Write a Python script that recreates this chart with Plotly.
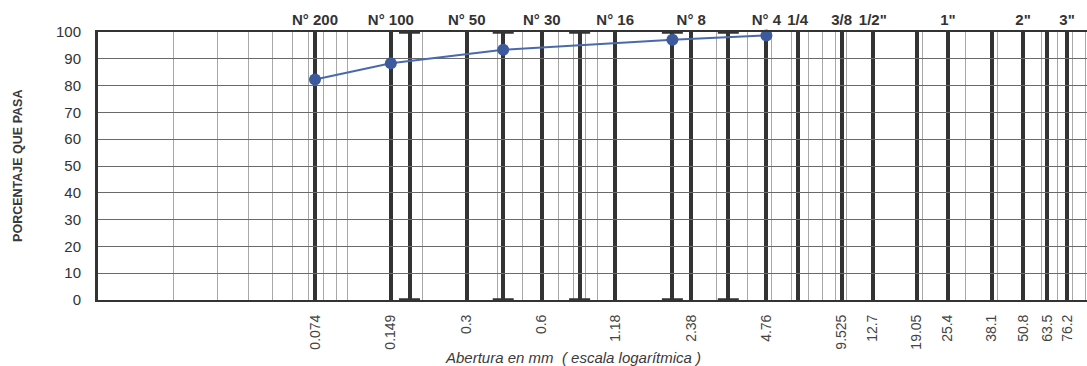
import numpy as np
import plotly.graph_objects as go

# ---------------- data ----------------
# measured points (sieve opening mm, % passing)
point_mm = [0.074, 0.149, 0.42, 2.0, 4.76]
point_pct = [82.3, 88.3, 93.4, 97.1, 98.7]

# heavy sieve lines
sieve_mm = [0.074, 0.149, 0.177, 0.3, 0.42, 0.6, 0.85, 1.18, 2.0, 2.38, 3.35,
            4.76, 6.35, 9.525, 12.7, 19.05, 25.4, 38.1, 50.8, 63.5, 76.2]
# bottom labels (mm)
bottom_mm = [0.074, 0.149, 0.3, 0.6, 1.18, 2.38, 4.76, 9.525, 12.7, 19.05,
             25.4, 38.1, 50.8, 63.5, 76.2]
bottom_text = ["0.074", "0.149", "0.3", "0.6", "1.18", "2.38", "4.76", "9.525",
               "12.7", "19.05", "25.4", "38.1", "50.8", "63.5", "76.2"]
# top labels (sieve names)
top_mm = [0.074, 0.149, 0.3, 0.6, 1.18, 2.38, 4.76, 6.35, 9.525, 12.7, 25.4, 50.8, 76.2]
top_text = ["N° 200", "N° 100", "N° 50", "N° 30", "N° 16", "N° 8", "N° 4",
            "1/4", "3/8", "1/2\"", "1\"", "2\"", "3\""]
# sieve lines drawn with end caps
capped_mm = [0.177, 0.42, 0.85, 2.0, 3.35]
# percent axis
y_ticks = [0, 10, 20, 30, 40, 50, 60, 70, 80, 90, 100]
# log minor grid
minor_mm = [m * 10.0 ** e for e in (-2, -1, 0, 1) for m in range(1, 10)]

FONT = "Liberation Sans, Arial, sans-serif"
DARK = "#333333"

fig = go.Figure()

# caps on some sieve lines
fig.add_trace(go.Scatter(
    x=capped_mm + capped_mm,
    y=[y_ticks[0]] * len(capped_mm) + [y_ticks[-1]] * len(capped_mm),
    mode="markers",
    marker=dict(symbol="line-ew", size=15, line=dict(width=3.5, color=DARK)),
    cliponaxis=False, hoverinfo="skip", showlegend=False,
))

# grading curve
fig.add_trace(go.Scatter(
    x=point_mm, y=point_pct, mode="lines+markers",
    line=dict(color="#4a69ad", width=2),
    marker=dict(color="#3c5a9c", size=12),
    cliponaxis=False, showlegend=False,
))

# invisible trace for top axis
fig.add_trace(go.Scatter(x=top_mm, y=[None] * len(top_mm), xaxis="x2",
                         showlegend=False, hoverinfo="skip"))

xr = [-2.0, 1.962]

fig.update_layout(
    width=1087, height=366,
    margin=dict(l=98, r=0, t=32, b=66),
    paper_bgcolor="white", plot_bgcolor="white",
    font=dict(family=FONT, color=DARK),
    xaxis=dict(
        type="log", range=xr,
        tickmode="array", tickvals=sieve_mm,
        ticktext=[bottom_text[bottom_mm.index(v)] if v in bottom_mm else "" for v in sieve_mm],
        tickangle=-90, tickfont=dict(size=14, color="#444444"),
        ticks="", ticklabelstandoff=7,
        showgrid=True, gridcolor=DARK, gridwidth=4,
        minor=dict(tickmode="array", tickvals=minor_mm, showgrid=True,
                   gridcolor="#a8a8a8", gridwidth=1, ticks=""),
        showline=True, linecolor=DARK, linewidth=2, mirror=True,
        zeroline=False,
    ),
    xaxis2=dict(
        type="log", range=xr, overlaying="x", side="top",
        tickmode="array", tickvals=top_mm, ticktext=top_text, tickangle=0,
        tickfont=dict(size=15, color=DARK, weight="bold"),
        ticks="", ticklabelstandoff=3,
        showgrid=False, showline=False, zeroline=False,
    ),
    yaxis=dict(
        range=[0, 100], tickmode="array", tickvals=y_ticks,
        tickfont=dict(size=15, color=DARK), ticks="", ticklabelstandoff=11,
        showgrid=True, gridcolor="#6a6a6a", gridwidth=1,
        showline=True, linecolor=DARK, linewidth=3, zeroline=False,
    ),
    annotations=[
        dict(text="PORCENTAJE QUE PASA", textangle=-90, xref="paper", yref="paper",
             x=-0.081, y=0.50, xanchor="center", yanchor="middle", showarrow=False,
             font=dict(size=12.5, color="#3a3a3a", weight="bold")),
        dict(text="<i>Abertura en mm  ( escala logarítmica )</i>", xref="paper", yref="paper",
             x=0.48, y=-0.213, xanchor="center", yanchor="middle", showarrow=False,
             font=dict(size=15, color="#3a3a3a")),
    ],
)

fig.write_html("out.html")
